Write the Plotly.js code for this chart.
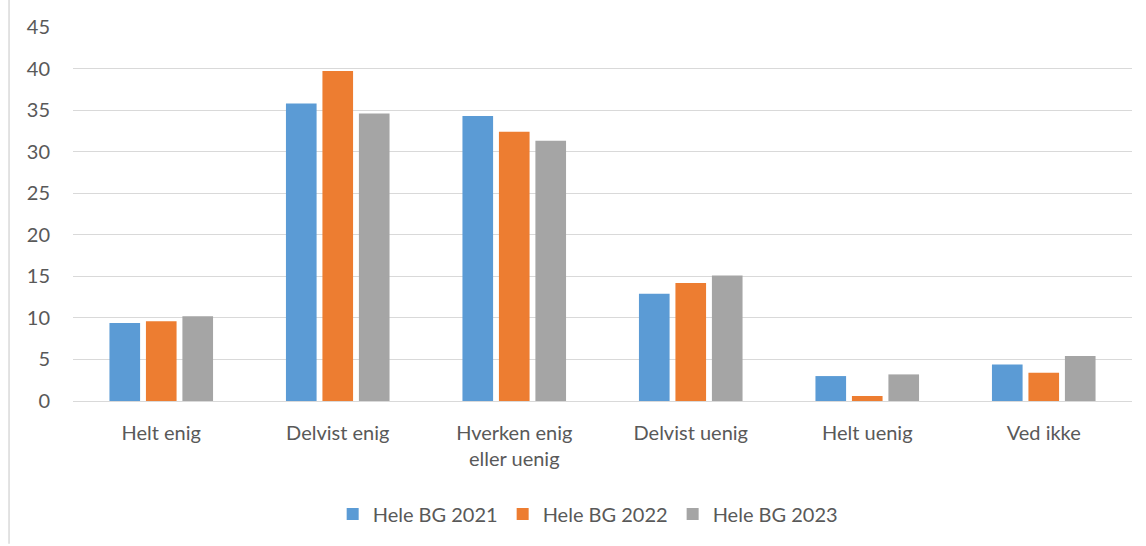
<!DOCTYPE html>
<html>
<head>
<meta charset="utf-8">
<script src="https://cdn.plot.ly/plotly-3.0.1.min.js"></script>
<style>html,body{margin:0;padding:0;background:#fff;}#chart{width:1146px;height:546px;}</style>
</head>
<body>
<div id="chart"></div>
<script>
const categories = ["Helt enig", "Delvist enig", "Hverken enig<br>eller uenig", "Delvist uenig", "Helt uenig", "Ved ikke"];
const seriesNames = ["Hele BG 2021", "Hele BG 2022", "Hele BG 2023"];
const values2021 = [9.4, 35.8, 34.3, 12.9, 3.0, 4.4];
const values2022 = [9.6, 39.7, 32.4, 14.2, 0.6, 3.4];
const values2023 = [10.2, 34.6, 31.3, 15.1, 3.2, 5.4];
const colors = ["#5B9BD5", "#ED7D31", "#A5A5A5"];
const yTicks = [0, 5, 10, 15, 20, 25, 30, 35, 40, 45];

const allValues = [values2021, values2022, values2023];
const traces = allValues.map((v, i) => ({
  type: "bar",
  name: seriesNames[i],
  x: categories,
  y: v,
  marker: {color: colors[i], line: {width: 0}},
  hoverinfo: "x+y+name"
}));

const layout = {
  width: 1146,
  height: 546,
  margin: {l: 73, r: 14, t: 27, b: 143},
  paper_bgcolor: "#ffffff",
  plot_bgcolor: "#ffffff",
  font: {family: "Lato, 'Open Sans', sans-serif", size: 20, color: "#595959"},
  barmode: "group",
  bargap: 0.38,
  bargroupgap: 0.16,
  showlegend: true,
  legend: {
    orientation: "h",
    x: 0.486, xanchor: "center",
    y: -0.302, yanchor: "middle",
    font: {size: 20, color: "#595959"},
    itemwidth: 30,
    traceorder: "normal"
  },
  xaxis: {
    automargin: false,
    showgrid: false,
    showline: true,
    linecolor: "#d9d9d9",
    linewidth: 1,
    ticks: "",
    ticklabelstandoff: 14,
    tickfont: {size: 20, color: "#595959"},
    fixedrange: true
  },
  yaxis: {
    automargin: false,
    range: [0, 45],
    tickvals: yTicks,
    ticktext: yTicks.map(String),
    showgrid: true,
    gridcolor: "#d9d9d9",
    gridwidth: 1,
    zeroline: false,
    showline: false,
    ticks: "",
    ticklabelstandoff: 22,
    tickfont: {size: 20, color: "#595959"},
    fixedrange: true
  },
  shapes: [{
    type: "line",
    xref: "paper", yref: "paper",
    x0: -0.0604, x1: -0.0604,
    y0: 1.073, y1: -0.382,
    line: {color: "#d9d9d9", width: 1.5}
  }]
};

Plotly.newPlot("chart", traces, layout, {displayModeBar: false, staticPlot: true});
</script>
</body>
</html>
